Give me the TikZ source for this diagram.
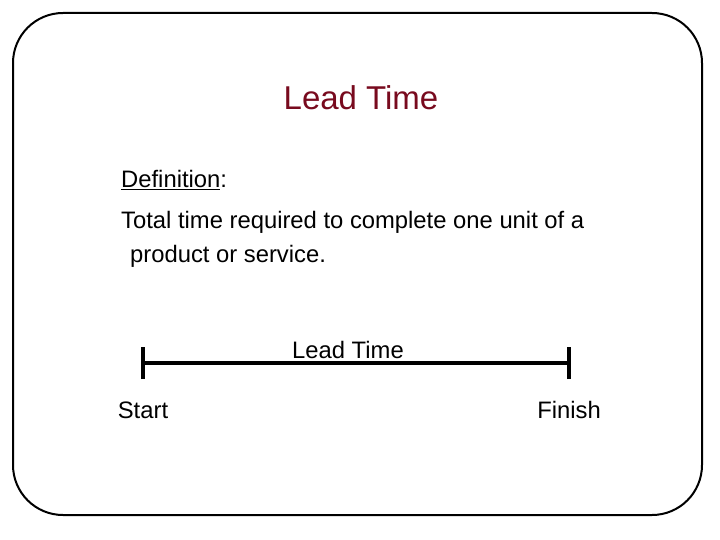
\documentclass[tikz,border=0pt]{standalone}
\usepackage{fontspec}
\setmainfont{Liberation Sans}
\definecolor{titlered}{RGB}{120,10,30}
\begin{document}
\begin{tikzpicture}[x=1pt,y=-1pt,
  bodytext/.style={font=\fontsize{23.8}{28}\selectfont,inner sep=0pt},
  bar/.style={line width=3.5pt}]
  \useasboundingbox (0,0) rectangle (720,540);
  % frame
  \draw[line width=2pt,rounded corners=50] (13,13) rectangle (702,515);
  % title
  \node[font=\fontsize{33}{38}\selectfont,text=titlered,inner sep=0pt] (title) at (361,98) {Lead Time};
  % definition
  \node[bodytext,anchor=west] (def) at (121,180) {\underline{Definition}:};
  \node[bodytext,anchor=west] (line1) at (121,222) {Total time required to complete one unit of a};
  \node[bodytext,anchor=west] (line2) at (130,256) {product or service.};
  % time line
  \coordinate (start) at (143,363);
  \coordinate (finish) at (569,363);
  \draw[bar] (start) -- (finish);
  \draw[bar] ([yshift=-16]start) -- ([yshift=16]start);
  \draw[bar] ([yshift=-16]finish) -- ([yshift=16]finish);
  \node[bodytext] (span) at (348,350) {Lead Time};
  \node[bodytext] (startlbl) at (143,410) {Start};
  \node[bodytext] (finishlbl) at (569,410) {Finish};
\end{tikzpicture}
\end{document}
